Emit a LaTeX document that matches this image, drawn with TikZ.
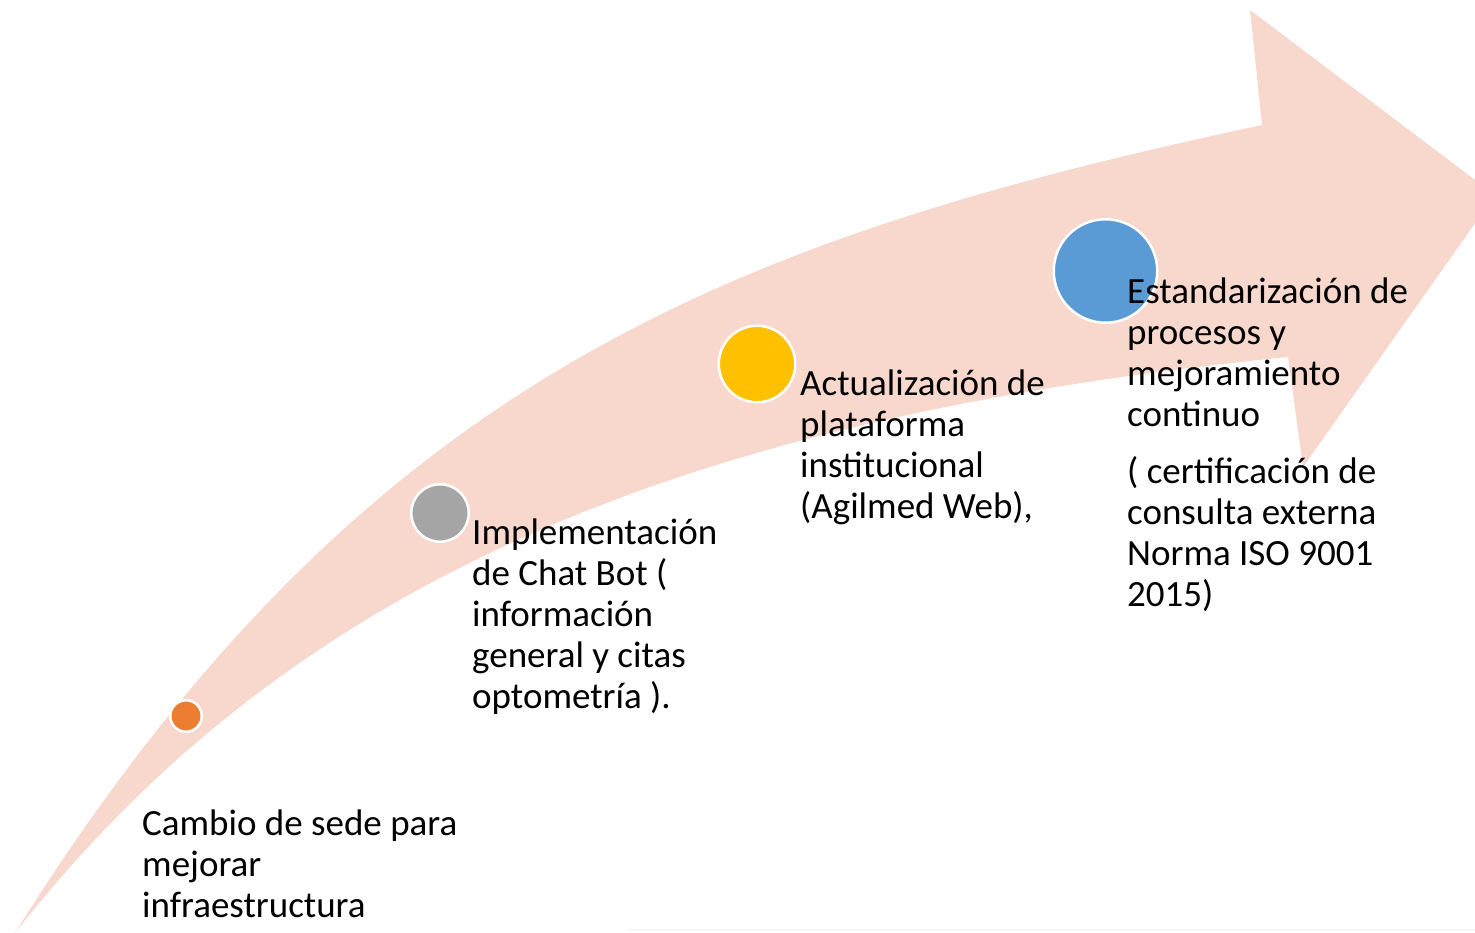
\documentclass[tikz,border=0pt]{standalone}
\usepackage{fontspec}
\setmainfont{Carlito}
\definecolor{arrowpink}{HTML}{F8D8CD}
\definecolor{dotorange}{HTML}{ED7D31}
\definecolor{dotgray}{HTML}{A5A5A5}
\definecolor{dotyellow}{HTML}{FFC000}
\definecolor{dotblue}{HTML}{5B9BD5}
\definecolor{faintline}{HTML}{EEF2F2}
\begin{document}
\begin{tikzpicture}[x=1pt,y=-1pt,
  dot/.style={circle, draw=white, line width=2.5pt, inner sep=0pt},
  lbl/.style={anchor=base west, align=left, inner sep=0pt, font=\fontsize{37}{41}\selectfont}]
\useasboundingbox (0,0) rectangle (1475,933);
\begin{scope}
\clip (0,0) rectangle (1475,933);
\fill[arrowpink] (15,933) .. controls (360,382) and (724,240) .. (1262,125)
  -- (1250,10) -- (1495,195) -- (1303,467) -- (1288,357)
  .. controls (688,417) and (294,577) .. (15,933) -- cycle;
\end{scope}
\draw[faintline, line width=1pt] (627,929) -- (1475,929);
\node[dot, fill=dotorange, minimum size=31.5pt] (c1) at (186,716) {};
\node[dot, fill=dotgray, minimum size=57.5pt] (c2) at (440,513) {};
\node[dot, fill=dotyellow, minimum size=76.5pt] (c3) at (757,364) {};
\node[dot, fill=dotblue, minimum size=103.5pt] (c4) at (1105.5,271) {};
\node[lbl] (t1) at (142,917) {Cambio de sede para\\mejorar\\infraestructura};
\node[lbl] (t2) at (472,708) {Implementación\\de Chat Bot (\\información\\general y citas\\optometría ).};
\node[lbl] (t3) at (800,518) {Actualización de\\plataforma\\institucional\\(Agilmed Web),};
\node[lbl] (t4) at (1127,606) {Estandarización de\\procesos y\\mejoramiento\\continuo\\[16pt]( certificación de\\consulta externa\\Norma ISO 9001\\2015)};
\end{tikzpicture}
\end{document}
